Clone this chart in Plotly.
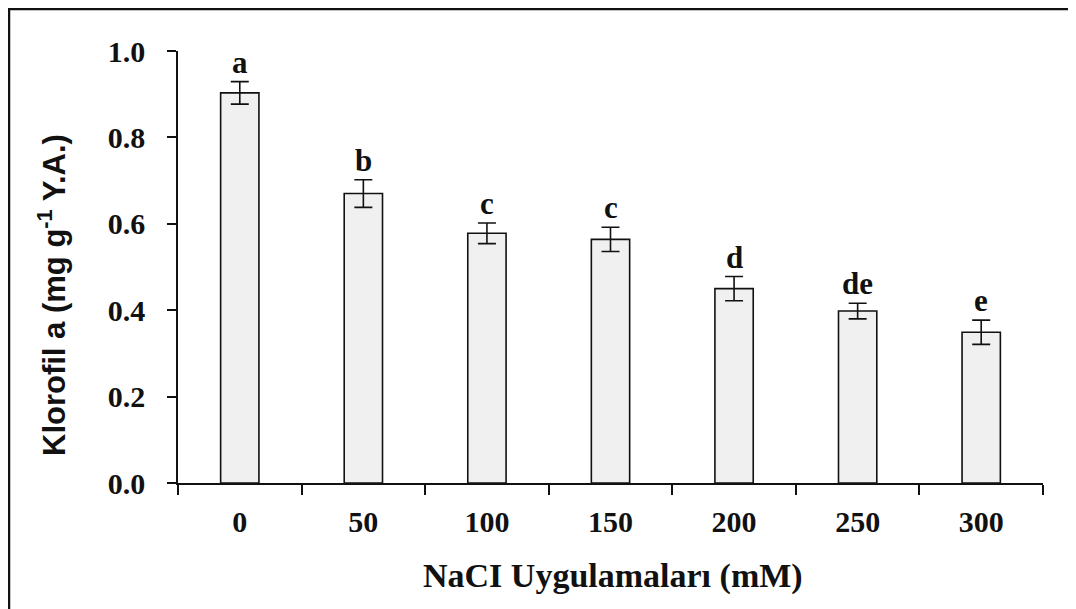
import plotly.graph_objects as go

categories = ["0", "50", "100", "150", "200", "250", "300"]
values = [0.903, 0.670, 0.578, 0.564, 0.450, 0.398, 0.349]
errors = [0.026, 0.032, 0.024, 0.028, 0.028, 0.018, 0.028]
letters = ["a", "b", "c", "c", "d", "de", "e"]

# page has an 8px body margin; figure sized/placed to compensate
OFF = 8
W, H = 1076 - OFF, 609 - OFF
ML, MR, MT, MB = 178 - OFF, 33, 51 - OFF, 126
PW, PH = W - ML - MR, H - MT - MB

def px_x(p):  # page pixel -> paper
    return (p - OFF - ML) / PW

def px_y(p):
    return (H - MB - (p - OFF)) / PH

serif = "Liberation Serif"
ink = "#111111"

fig = go.Figure()
fig.add_trace(go.Bar(
    x=categories, y=values, width=0.31,
    marker=dict(color="#f0f0f0", line=dict(color=ink, width=1.6)),
    error_y=dict(type="data", array=errors, visible=True, color=ink,
                 thickness=1.6, width=9),
    showlegend=False,
))

annotations = []
for i, (v, e, l) in enumerate(zip(values, errors, letters)):
    annotations.append(dict(
        x=i, y=v + e, xref="x", yref="y", text=l, showarrow=False,
        yanchor="bottom", yshift=0,
        font=dict(family=serif, size=31, color=ink, weight="bold"),
    ))

annotations.append(dict(
    x=px_x(52), y=px_y(295), xref="paper", yref="paper",
    text="Klorofil a (mg g<sup>-1</sup> Y.A.)", textangle=-90,
    showarrow=False, xanchor="center", yanchor="middle",
    font=dict(family="Liberation Sans", size=31, color=ink, weight="bold"),
))
annotations.append(dict(
    x=px_x(613), y=px_y(576), xref="paper", yref="paper",
    text="NaCI Uygulamaları (mM)", showarrow=False,
    xanchor="center", yanchor="middle",
    font=dict(family=serif, size=34, color=ink, weight="bold"),
))

shapes = [
    dict(type="line", xref="paper", yref="paper", x0=px_x(9), x1=px_x(9),
         y0=px_y(8), y1=px_y(620), line=dict(color=ink, width=2.5)),
    dict(type="line", xref="paper", yref="paper", x0=px_x(9), x1=px_x(1090),
         y0=px_y(9), y1=px_y(9), line=dict(color=ink, width=2.5)),
]

fig.update_layout(
    width=W, height=H,
    margin=dict(l=ML, r=MR, t=MT, b=MB, autoexpand=False),
    paper_bgcolor="white", plot_bgcolor="white",
    annotations=annotations, shapes=shapes,
    xaxis=dict(
        type="category", categoryorder="array", categoryarray=categories,
        range=[-0.5, len(categories) - 0.5],
        tickson="boundaries", ticks="outside", ticklen=10,
        tickwidth=1.5, tickcolor=ink, showline=True, linecolor=ink,
        linewidth=1.6, showgrid=False, zeroline=False, tickangle=0,
        tickfont=dict(family=serif, size=30, color=ink, weight="bold"),
        ticklabelstandoff=11,
    ),
    yaxis=dict(
        range=[0, 1.0], dtick=0.2, tickformat=".1f", ticks="outside", ticklen=9,
        tickwidth=1.5, tickcolor=ink, showline=True, linecolor=ink,
        linewidth=1.6, showgrid=False, zeroline=False,
        tickfont=dict(family=serif, size=30, color=ink, weight="bold"),
        ticklabelstandoff=16,
    ),
)

fig.write_html("out.html")
